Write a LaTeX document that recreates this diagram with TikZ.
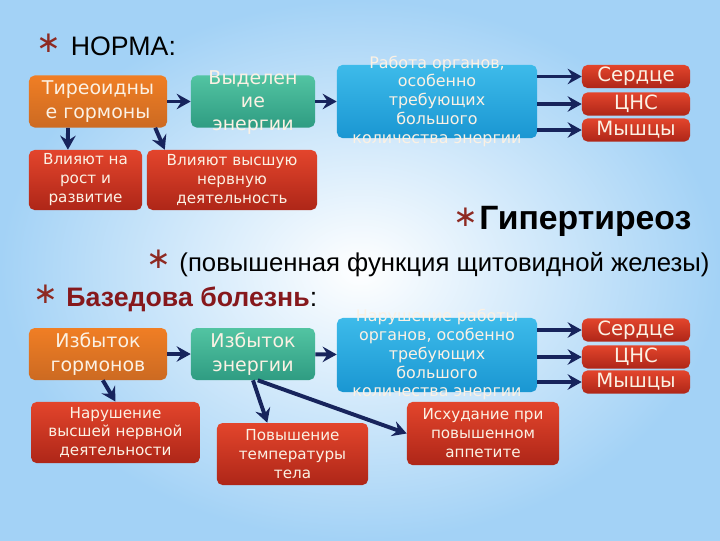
\documentclass[tikz,border=0pt]{standalone}
\usepackage{fontspec}
\setmainfont{Liberation Sans}
\newfontfamily\boxfont{DejaVu Sans}
\usetikzlibrary{arrows.meta}
\definecolor{bgblue}{HTML}{A3D2F6}
\definecolor{navyarrow}{HTML}{17245C}
\definecolor{starred}{HTML}{8E2A22}
\definecolor{boxtext}{HTML}{FBF1E4}
\definecolor{orangetop}{HTML}{F07E24}
\definecolor{orangebot}{HTML}{CC6A22}
\definecolor{greentop}{HTML}{52C4A2}
\definecolor{greenbot}{HTML}{2F9C82}
\definecolor{bluetop}{HTML}{3DBBEA}
\definecolor{bluebot}{HTML}{1A96D2}
\definecolor{redtop}{HTML}{E3452C}
\definecolor{redbot}{HTML}{AE2618}
\definecolor{basred}{HTML}{86181C}
\newcommand\starmark{{\color{starred}\boxfont\mdseries\fontsize{21}{21}\selectfont\raisebox{2pt}{∗}}}
\newcommand\spill[3][-5pt]{\raisebox{#1}{\smash{\parbox{#2}{\centering #3}}}}
\begin{document}
\begin{tikzpicture}[x=0.025cm,y=-0.025cm,
  every node/.style={align=center, inner sep=0pt},
  box/.style={rounded corners=4pt, text=boxtext, font=\boxfont\fontsize{13.5}{16.5}\selectfont},
  orangebox/.style={box, top color=orangetop, bottom color=orangebot},
  greenbox/.style={box, top color=greentop, bottom color=greenbot},
  bluebox/.style={box, top color=bluetop, bottom color=bluebot, font=\boxfont\fontsize{11.3}{13.4}\selectfont},
  redbox/.style={box, top color=redtop, bottom color=redbot, font=\boxfont\fontsize{10.8}{13.5}\selectfont},
  organ/.style={box, top color=redtop, bottom color=redbot, font=\boxfont\fontsize{14}{14}\selectfont, minimum width=2.7cm, minimum height=0.58cm},
  arr/.style={draw=navyarrow, line width=2.8pt, -{Stealth[length=10pt,width=11pt,inset=3.5pt]}}]
  \shade[inner color=white, outer color=bgblue] (0,0) rectangle (720,540);
  \node[anchor=base west, font=\fontsize{19}{19}\selectfont] (norm) at (36,55) {\starmark\hspace{7pt}НОРМА:};
  \node[orangebox, minimum width=3.45cm, minimum height=1.3cm] (tg) at (98,101.5) {Тиреоидны\\е гормоны};
  \node[greenbox, minimum width=3.1cm, minimum height=1.3cm] (ve) at (253,101.5) {\spill[-9pt]{3cm}{Выделен\\ие\\энергии}};
  \node[bluebox, minimum width=5cm, minimum height=1.83cm] (ro) at (437,101.5) {\spill{4.8cm}{Работа органов,\\особенно\\требующих\\большого\\количества энергии}};
  \node[organ] (h1) at (636,76.5) {Сердце};
  \node[organ] (c1) at (636,104) {ЦНС};
  \node[organ] (m1) at (636,130) {Мышцы};
  \node[redbox, minimum width=2.83cm, minimum height=1.5cm] (gr) at (85.5,180) {Влияют на\\рост и\\развитие};
  \node[redbox, minimum width=4.25cm, minimum height=1.5cm] (nd) at (232,180) {Влияют высшую\\нервную\\деятельность};
  \node[anchor=base west, font=\fontsize{24}{24}\selectfont\bfseries] (hyp) at (453,229) {\starmark\hspace{1pt}Гипертиреоз};
  \node[anchor=base west, font=\fontsize{18.3}{18.3}\selectfont] (note) at (146,271) {\starmark\hspace{6pt}(повышенная функция щитовидной железы)};
  \node[anchor=base west, font=\fontsize{19}{19}\selectfont] (bas) at (33,306) {\starmark\hspace{6pt}{\bfseries\color{basred}Базедова болезнь}:};
  \node[orangebox, minimum width=3.45cm, minimum height=1.3cm] (eg) at (98,354) {Избыток\\гормонов};
  \node[greenbox, minimum width=3.1cm, minimum height=1.3cm] (ee) at (253,354) {Избыток\\энергии};
  \node[bluebox, minimum width=5cm, minimum height=1.85cm] (nr) at (437,355) {\spill{4.8cm}{Нарушение работы\\органов, особенно\\требующих\\большого\\количества энергии}};
  \node[organ] (h2) at (636,330) {Сердце};
  \node[organ] (c2) at (636,357) {ЦНС};
  \node[organ] (m2) at (636,382) {Мышцы};
  \node[redbox, minimum width=4.22cm, minimum height=1.53cm] (vn) at (115.5,432.5) {Нарушение\\высшей нервной\\деятельности};
  \node[redbox, minimum width=3.78cm, minimum height=1.55cm] (pt) at (292.5,454) {Повышение\\температуры\\тела};
  \node[redbox, minimum width=3.8cm, minimum height=1.58cm] (ih) at (483,433.5) {Исхудание при\\повышенном\\аппетите};
  \draw[arr] (tg) -- (ve);
  \draw[arr] (ve) -- (ro);
  \draw[arr] (ro.east |- h1) -- (h1);
  \draw[arr] (ro.east |- c1) -- (c1);
  \draw[arr] (ro.east |- m1) -- (m1);
  \draw[arr] ([xshift=-0.75cm]tg.south) -- ([xshift=-0.44cm]gr.north);
  \draw[arr] ([xshift=1.43cm]tg.south) -- ([xshift=-1.68cm]nd.north);
  \draw[arr] (eg) -- (ee);
  \draw[arr] (ee) -- (nr);
  \draw[arr] (nr.east |- h2) -- (h2);
  \draw[arr] (nr.east |- c2) -- (c2);
  \draw[arr] (nr.east |- m2) -- (m2);
  \draw[arr] ([xshift=0.12cm]eg.south) -- (vn.north);
  \draw[arr] (ee.south) -- ([xshift=-0.63cm]pt.north);
  \draw[arr] ([xshift=0.12cm]ee.south) -- (ih.west);
\end{tikzpicture}
\end{document}
